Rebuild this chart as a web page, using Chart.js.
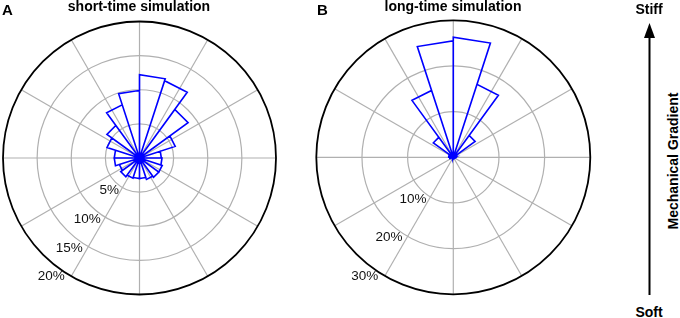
<!DOCTYPE html>
<html>
<head>
<meta charset="utf-8">
<script src="https://cdn.jsdelivr.net/npm/chart.js@4.4.0/dist/chart.umd.min.js"></script>
<style>
  body { margin: 0; background: #fff; font-family: "Liberation Sans", Arial, sans-serif; color: #000; }
  #wrap { position: relative; width: 680px; height: 318px; overflow: hidden; }
  canvas { position: absolute; top: 0; }
  .lbl { position: absolute; font-weight: bold; white-space: nowrap; line-height: 1; }
</style>
</head>
<body>
<div id="wrap">
  <canvas id="roseA" width="290" height="318" style="left:0"></canvas>
  <canvas id="roseB" width="300" height="318" style="left:300px"></canvas>

  <div class="lbl" style="left:2px;top:2px;font-size:15px">A</div>
  <div class="lbl" style="left:139px;top:-1px;font-size:14px;transform:translateX(-50%)">short-time simulation</div>
  <div class="lbl" style="left:317px;top:2px;font-size:15px">B</div>
  <div class="lbl" style="left:453px;top:-1px;font-size:14px;transform:translateX(-50%)">long-time simulation</div>

  <div class="lbl" style="left:649px;top:1.5px;font-size:14px;transform:translateX(-50%)">Stiff</div>
  <div class="lbl" style="left:649px;top:305px;font-size:14px;transform:translateX(-50%)">Soft</div>
  <div class="lbl" style="left:673px;top:161px;font-size:14px;transform:translate(-50%,-50%) rotate(-90deg)">Mechanical Gradient</div>
  <svg style="position:absolute;left:640px;top:20px" width="20" height="280">
    <line x1="9.5" y1="14" x2="9.5" y2="275" stroke="#000" stroke-width="2"/>
    <polygon points="9.5,3 4,18 15,18" fill="#000"/>
  </svg>
</div>

<script>
// bin width of the rose (degrees), bins counted counter-clockwise from east
const binDeg = 18;

// percent of cells per direction bin
const shortTime = [3.2, 5.5, 8.8, 11.9, 12.2, 9.9, 8.2, 5.9, 5.0, 3.7,
                   3.7, 3.1, 3.4, 3.1, 3.0, 3.0, 3.3, 3.5, 3.5, 3.3];
const longTime  = [0.8, 0.5, 5.9, 16.8, 26.3, 25.5, 15.4, 5.4, 0.5, 1.0,
                   0.8, 0.3, 0.3, 0.3, 0.3, 0.3, 0.3, 0.3, 0.3, 0.5];

// radial rings and their labels
const ringsA = [5, 10, 15, 20];
const ringLabelsA = ["5%", "10%", "15%", "20%"];
const ringsB = [10, 20, 30];
const ringLabelsB = ["10%", "20%", "30%"];

const rad = (d) => d * Math.PI / 180;

// triangle outline of each bin, center -> edge -> edge -> center
function rosePoints(vals) {
  const pts = [{ x: 0, y: 0 }];
  vals.forEach((v, i) => {
    const a0 = rad(i * binDeg), a1 = rad((i + 1) * binDeg);
    pts.push({ x: v * Math.cos(a0), y: v * Math.sin(a0) });
    pts.push({ x: v * Math.cos(a1), y: v * Math.sin(a1) });
    pts.push({ x: 0, y: 0 });
  });
  return pts;
}

// polar grid drawn from the chart's own scales
const polarGrid = {
  id: "polarGrid",
  beforeDatasetsDraw(chart, args, opts) {
    const { ctx, scales: { x, y } } = chart;
    const cx = x.getPixelForValue(0), cy = y.getPixelForValue(0);
    const max = opts.rings[opts.rings.length - 1];
    const R = x.getPixelForValue(max) - cx;
    ctx.save();
    ctx.strokeStyle = "#b0b0b0";
    ctx.lineWidth = 1.2;
    for (let a = 0; a < 360; a += 30) {
      ctx.beginPath();
      ctx.moveTo(cx, cy);
      ctx.lineTo(x.getPixelForValue(max * Math.cos(rad(a))), y.getPixelForValue(max * Math.sin(rad(a))));
      ctx.stroke();
    }
    opts.rings.slice(0, -1).forEach((r) => {
      ctx.beginPath();
      ctx.arc(cx, cy, x.getPixelForValue(r) - cx, 0, Math.PI * 2);
      ctx.stroke();
    });
    ctx.strokeStyle = "#000";
    ctx.lineWidth = 1.8;
    ctx.beginPath();
    ctx.arc(cx, cy, R, 0, Math.PI * 2);
    ctx.stroke();
    ctx.restore();
  },
  afterDatasetsDraw(chart, args, opts) {
    const { ctx, scales: { x, y } } = chart;
    ctx.save();
    ctx.fillStyle = "#111";
    ctx.font = '13.5px "Liberation Sans", Arial, sans-serif';
    ctx.textAlign = "right";
    ctx.textBaseline = "middle";
    const a = rad(238);
    opts.rings.forEach((r, i) => {
      const px = x.getPixelForValue(r * Math.cos(a)) - 2.5;
      const py = y.getPixelForValue(r * Math.sin(a)) + 3;
      ctx.fillText(opts.labels[i], px, py);
    });
    ctx.restore();
  }
};

function makeRose(id, vals, rings, labels, pad) {
  const max = rings[rings.length - 1];
  return new Chart(document.getElementById(id), {
    type: "scatter",
    data: {
      datasets: [{
        data: rosePoints(vals),
        showLine: true,
        borderColor: "#0000ff",
        borderWidth: 1.6,
        pointRadius: 0,
        tension: 0,
        fill: false,
        clip: false,
      }],
    },
    options: {
      responsive: false,
      animation: false,
      layout: { padding: pad },
      scales: {
        x: { type: "linear", min: -max, max: max, display: false },
        y: { type: "linear", min: -max, max: max, display: false },
      },
      plugins: {
        legend: { display: false },
        tooltip: { enabled: false },
        polarGrid: { rings: rings, labels: labels },
      },
    },
    plugins: [polarGrid],
  });
}

makeRose("roseA", shortTime, ringsA, ringLabelsA, { left: 3, right: 14, top: 21.5, bottom: 23.5 });
makeRose("roseB", longTime, ringsB, ringLabelsB, { left: 16.3, right: 9.7, top: 20.3, bottom: 23.7 });
</script>
</body>
</html>
